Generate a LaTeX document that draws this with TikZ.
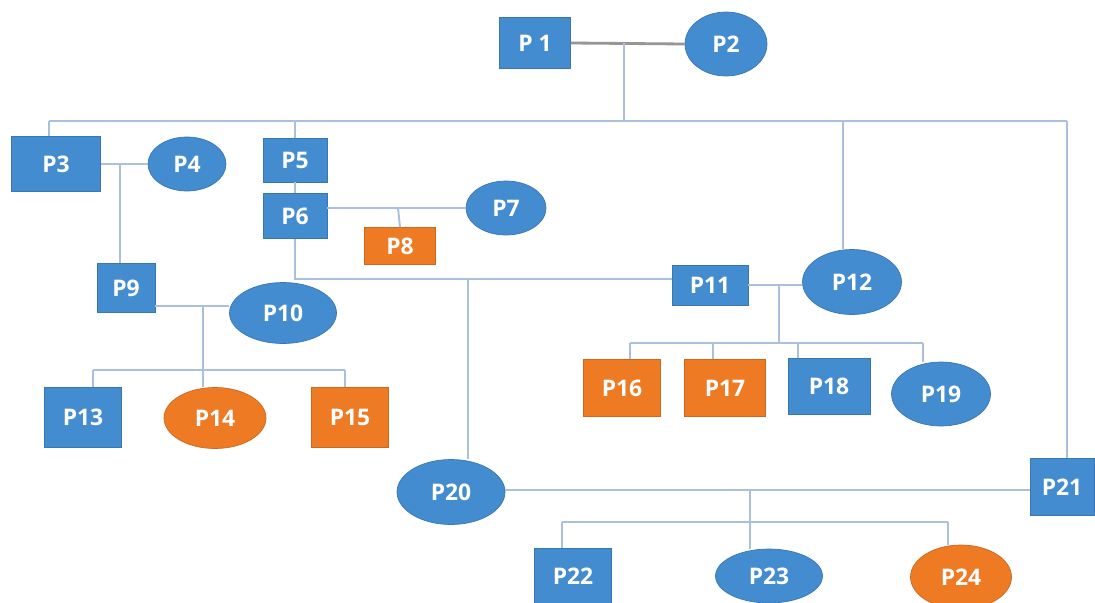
\documentclass[tikz,border=0pt]{standalone}
\usepackage{fontspec}
\setmainfont{Open Sans}
\usetikzlibrary{shapes.geometric,positioning}
\definecolor{pblue}{RGB}{68,140,208}
\definecolor{porange}{RGB}{238,122,36}
\definecolor{plink}{RGB}{170,192,220}
\definecolor{pcouple}{RGB}{150,150,150}
\tikzstyle{person} = [text=white, font=\fontsize{13}{15}\selectfont\bfseries,
inner sep=0pt, fill=pblue, draw=pblue!85!black, line width=0.4pt]
\tikzstyle{male} = [person, rectangle]
\tikzstyle{female} = [person, ellipse]
\tikzstyle{marked} = [fill=porange, draw=porange!85!black]
\tikzstyle{link} = [draw=plink, line width=1.1pt]

\begin{document}
\begin{tikzpicture}[x=0.02cm,y=-0.02cm]
            \useasboundingbox[fill=white] (0,0) rectangle (1095,602);
            \clip (0,0) rectangle (1095,602);
            \node[male, minimum width=1.42cm, minimum height=1.02cm] (p1) at (535,43) {P 1};
            \node[female, minimum width=1.64cm, minimum height=1.28cm] (p2) at (726,44) {P2};
            \node[male, minimum width=1.78cm, minimum height=1.10cm] (p3) at (56,164) {P3};
            \node[female, minimum width=1.56cm, minimum height=1.08cm] (p4) at (187,164) {P4};
            \node[male, minimum width=1.28cm, minimum height=0.88cm] (p5) at (295,160) {P5};
            \node[male, minimum width=1.28cm, minimum height=0.90cm] (p6) at (295,216) {P6};
            \node[female, minimum width=1.60cm, minimum height=1.08cm] (p7) at (506,208) {P7};
            \node[male, marked, minimum width=1.42cm, minimum height=0.74cm] (p8) at (400,246) {P8};
            \node[male, minimum width=1.16cm, minimum height=0.98cm] (p9) at (126,288) {P9};
            \node[female, minimum width=2.14cm, minimum height=1.22cm] (p10) at (283,313) {P10};
            \node[male, minimum width=1.52cm, minimum height=0.80cm] (p11) at (710,285) {P11};
            \node[female, minimum width=1.98cm, minimum height=1.30cm] (p12) at (852,282) {P12};
            \node[male, minimum width=1.54cm, minimum height=1.20cm] (p13) at (83,417) {P13};
            \node[female, marked, minimum width=2.04cm, minimum height=1.22cm] (p14) at (215,418) {P14};
            \node[male, marked, minimum width=1.54cm, minimum height=1.20cm] (p15) at (350,417) {P15};
            \node[male, marked, minimum width=1.54cm, minimum height=1.14cm] (p16) at (622,388) {P16};
            \node[male, marked, minimum width=1.62cm, minimum height=1.14cm] (p17) at (725,388) {P17};
            \node[male, minimum width=1.64cm, minimum height=1.12cm] (p18) at (829,386) {P18};
            \node[female, minimum width=1.98cm, minimum height=1.28cm] (p19) at (941,394) {P19};
            \node[female, minimum width=2.16cm, minimum height=1.30cm] (p20) at (451,492) {P20};
            \node[male, minimum width=1.28cm, minimum height=1.14cm] (p21) at (1062,487) {P21};
            \node[male, minimum width=1.54cm, minimum height=1.12cm] (p22) at (573,576) {P22};
            \node[female, minimum width=2.14cm, minimum height=1.08cm] (p23) at (769,576) {P23};
            \node[female, marked, minimum width=2.02cm, minimum height=1.28cm] (p24) at (961,577) {P24};

            \coordinate (j12) at (624,43);
            \coordinate (b3) at (49,121);
            \coordinate (b12) at (843,121);
            \coordinate (b21) at (1067,121);
            \coordinate (j34) at (120,164);
            \coordinate (j67) at (398,208);
            \coordinate (j6) at (295,279);
            \coordinate (j20) at (468,279);
            \coordinate (j910) at (203,306);
            \coordinate (b13) at (93,370);
            \coordinate (b15) at (345,370);
            \coordinate (j1112) at (779,285);
            \coordinate (b16) at (630,343);
            \coordinate (b17) at (713,343);
            \coordinate (b18) at (798,343);
            \coordinate (b19) at (923,343);
            \coordinate (j2021) at (750,490);
            \coordinate (b22) at (562,522);
            \coordinate (b24) at (948,522);

            \draw[draw=pcouple, line width=1.6pt] (p1.east) -- (p2.west);
            \draw[link] (j12) -- (j12 |- b3);
            \draw[link] (b3) -- (b21);
            \draw[link] (b3) -- (b3 |- p3.north);
            \draw[link] (p5.north |- b3) -- (p5.north);
            \draw[link] (b12) -- (b12 |- p12.north);
            \draw[link] (b21) -- (b21 |- p21.north);

            \draw[link] (p3.east) -- (p4.west);
            \draw[link] (j34) -- (j34 |- p9.north);
            \draw[link] (p5.south) -- (p6.north);
            \draw[link] (j67 -| p6.east) -- (p7.west);
            \draw[link] (j67) -- (p8.north);
            \draw[link] (p6.south) -- (j6) -- (j6 -| p11.west);
            \draw[link] (j20) -- (j20 |- p20.north);

            \draw[link] (j910 -| p9.east) -- (j910 -| p10.west);
            \draw[link] (j910) -- (j910 |- p14.north);
            \draw[link] (b13) -- (b15);
            \draw[link] (b13) -- (b13 |- p13.north);
            \draw[link] (b15) -- (b15 |- p15.north);

            \draw[link] (p11.east) -- (j1112 -| p12.west);
            \draw[link] (j1112) -- (j1112 |- b16);
            \draw[link] (b16) -- (b19);
            \draw[link] (b16) -- (b16 |- p16.north);
            \draw[link] (b17) -- (b17 |- p17.north);
            \draw[link] (b18) -- (b18 |- p18.north);
            \draw[link] (b19) -- (b19 |- p19.north);

            \draw[link] (j2021 -| p20.east) -- (j2021 -| p21.west);
            \draw[link] (j2021) -- (j2021 |- b22);
            \draw[link] (b22) -- (b24);
            \draw[link] (b22) -- (b22 |- p22.north);
            \draw[link] (j2021 |- b22) -- (j2021 |- p23.north);
            \draw[link] (b24) -- (b24 |- p24.north);
        \end{tikzpicture}
\end{document}
